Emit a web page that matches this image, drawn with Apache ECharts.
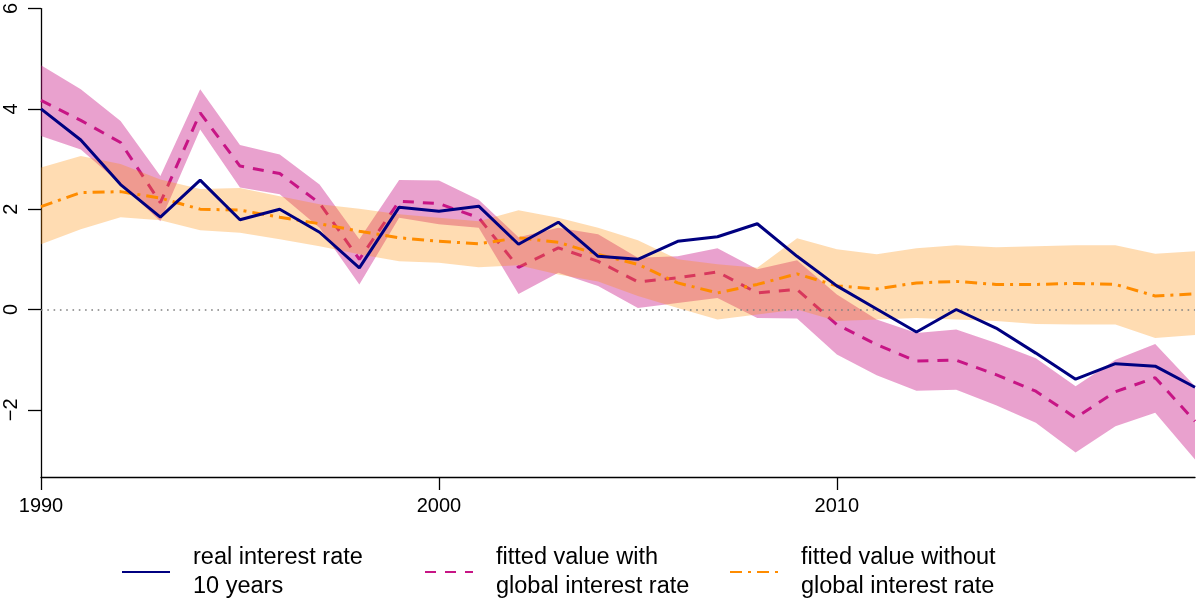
<!DOCTYPE html>
<html>
<head>
<meta charset="utf-8">
<script src="https://cdn.jsdelivr.net/npm/echarts@6/dist/echarts.min.js"></script>
<style>
html,body{margin:0;padding:0;background:#fff;}
#chart{width:1200px;height:602px;}
</style>
</head>
<body>
<div id="chart"></div>
<script>
const years = [1990,1991,1992,1993,1994,1995,1996,1997,1998,1999,2000,2001,2002,2003,2004,2005,2006,2007,2008,2009,2010,2011,2012,2013,2014,2015,2016,2017,2018,2019];

const realRate = [4.00,3.38,2.49,1.84,2.58,1.79,2.00,1.54,0.83,2.04,1.96,2.06,1.30,1.74,1.06,1.00,1.36,1.45,1.71,1.06,0.47,0.01,-0.45,0.00,-0.37,-0.87,-1.39,-1.08,-1.13,-1.55];

const fitWith = [4.17,3.77,3.33,2.13,3.92,2.86,2.71,2.12,1.00,2.16,2.11,1.83,0.84,1.23,0.96,0.55,0.63,0.75,0.33,0.40,-0.30,-0.70,-1.03,-1.01,-1.30,-1.63,-2.16,-1.64,-1.36,-2.23];
const withUpper = [4.87,4.39,3.76,2.66,4.39,3.28,3.09,2.49,1.40,2.58,2.57,2.19,1.44,1.63,1.50,1.03,1.06,1.22,0.80,0.98,0.30,-0.20,-0.47,-0.40,-0.67,-0.97,-1.53,-1.00,-0.69,-1.53];
const withLower = [3.46,3.19,2.50,1.76,3.59,2.43,2.30,1.63,0.50,1.83,1.70,1.63,0.31,0.73,0.47,0.03,0.13,0.23,-0.17,-0.18,-0.90,-1.31,-1.62,-1.60,-1.91,-2.26,-2.85,-2.33,-2.06,-2.99];

const fitWithout = [2.05,2.33,2.35,2.22,2.00,1.98,1.84,1.71,1.56,1.43,1.36,1.31,1.43,1.34,1.10,0.90,0.53,0.33,0.50,0.71,0.47,0.41,0.53,0.56,0.50,0.50,0.52,0.50,0.27,0.31];
const withoutUpper = [2.83,3.06,2.90,2.59,2.40,2.42,2.26,2.10,2.01,1.90,1.83,1.76,1.98,1.83,1.63,1.38,1.00,0.90,0.83,1.42,1.20,1.10,1.22,1.28,1.24,1.26,1.28,1.28,1.11,1.16];
const withoutLower = [1.30,1.60,1.84,1.78,1.58,1.53,1.40,1.26,1.10,0.96,0.93,0.84,0.88,0.70,0.56,0.27,0.03,-0.20,-0.10,0.00,-0.23,-0.20,-0.17,-0.20,-0.23,-0.29,-0.30,-0.30,-0.57,-0.51];

const yTicks = [-2,0,2,4,6];
const seriesNames = ['real interest rate\n10 years','fitted value with\nglobal interest rate','fitted value without\nglobal interest rate'];

const FONT = '"Liberation Sans", Arial, Helvetica, sans-serif';

function band(upper, lower, color, z) {
  return {
    type: 'custom',
    z: z,
    silent: true,
    clip: true,
    data: [[2000, 0]],
    renderItem: function (params, api) {
      const pts = [];
      for (let i = 0; i < years.length; i++) pts.push(api.coord([years[i], upper[i]]));
      for (let i = years.length - 1; i >= 0; i--) pts.push(api.coord([years[i], lower[i]]));
      return { type: 'polygon', shape: { points: pts }, style: { fill: color } };
    }
  };
}
function pairs(vals) { return years.map((y, i) => [y, vals[i]]); }

const chart = echarts.init(document.getElementById('chart'), null, { renderer: 'canvas' });

const legendBase = {
  top: 543,
  padding: 0,
  itemWidth: 48,
  itemHeight: 14,
  selectedMode: false,
  itemStyle: { color: 'rgba(0,0,0,0)', borderWidth: 0, opacity: 0 },
  textStyle: { fontFamily: FONT, fontSize: 23.5, lineHeight: 29, color: '#000', padding: [0, 0, 0, 18] }
};

chart.setOption({
  animation: false,
  backgroundColor: '#fff',
  grid: { left: 41, right: 5, top: 8, bottom: 125, containLabel: false },
  legend: [
    Object.assign({}, legendBase, { left: 121, data: [seriesNames[0]] }),
    Object.assign({}, legendBase, { left: 424, data: [seriesNames[1]] }),
    Object.assign({}, legendBase, { left: 729, data: [seriesNames[2]] })
  ],
  xAxis: {
    type: 'value',
    min: 1990, max: 2019, interval: 10,
    splitLine: { show: false },
    axisLine: { show: true, onZero: false, lineStyle: { color: '#000', width: 1.3 } },
    axisTick: { show: true, length: 13, lineStyle: { color: '#000', width: 1.3 } },
    axisLabel: { fontFamily: FONT, fontSize: 20, color: '#000', margin: 19, formatter: v => String(v), showMaxLabel: false }
  },
  yAxis: {
    type: 'value',
    min: -3.34, max: 6,
    splitLine: { show: false },
    axisLine: { show: true, onZero: false, lineStyle: { color: '#000', width: 1.3 } },
    axisTick: { show: true, length: 13, customValues: yTicks, lineStyle: { color: '#000', width: 1.3 } },
    axisLabel: {
      customValues: yTicks,
      fontFamily: FONT, fontSize: 20, color: '#000', rotate: 90, margin: 20,
      formatter: v => (v < 0 ? '\u2212' + Math.abs(v) : String(v))
    }
  },
  series: [
    band(withUpper, withLower, 'rgba(199,21,133,0.4)', 1),
    {
      name: seriesNames[1],
      type: 'line', z: 2, symbol: 'none', silent: true,
      data: pairs(fitWith),
      itemStyle: { color: '#C71585' },
      lineStyle: { color: '#C71585', width: 3, type: [11, 9] },
      markLine: {
        silent: true, symbol: 'none', label: { show: false },
        lineStyle: { color: '#808080', type: [1.6, 4.7], width: 1.6 },
        data: [{ yAxis: 0 }]
      }
    },
    band(withoutUpper, withoutLower, 'rgba(255,140,0,0.3)', 3),
    {
      name: seriesNames[2],
      type: 'line', z: 4, symbol: 'none', silent: true,
      data: pairs(fitWithout),
      itemStyle: { color: '#FF8C00' },
      lineStyle: { color: '#FF8C00', width: 3, type: [12, 6, 3, 6] }
    },
    {
      name: seriesNames[0],
      type: 'line', z: 5, symbol: 'none', silent: true,
      data: pairs(realRate),
      itemStyle: { color: '#000080' },
      lineStyle: { color: '#000080', width: 3 }
    }
  ]
});
</script>
</body>
</html>
